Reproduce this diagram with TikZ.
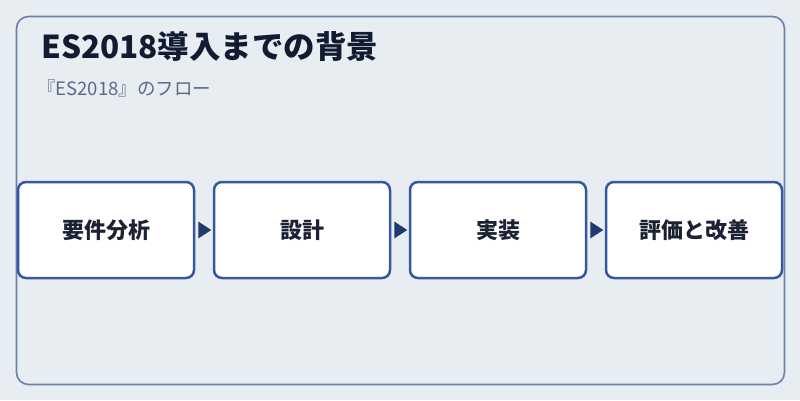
\documentclass[tikz,border=0pt]{standalone}
\usepackage{fontspec}
\setmainfont{Noto Sans CJK JP}
\usetikzlibrary{arrows.meta}
\definecolor{bg}{HTML}{E8EDF2}
\definecolor{frame}{HTML}{6A80B0}
\definecolor{boxline}{HTML}{3558A0}
\definecolor{arrowc}{HTML}{1E3A70}
\definecolor{titlec}{HTML}{111C33}
\definecolor{subc}{HTML}{5A6A88}
\definecolor{textc}{HTML}{1A2233}
\tikzset{
  stepbox/.style={draw=boxline, line width=2.5pt, fill=white, rounded corners=8pt,
    minimum width=176pt, minimum height=96pt, inner sep=0pt,
    font=\fontsize{22}{26}\selectfont\bfseries, text=textc}
}
\begin{document}
\begin{tikzpicture}[x=1pt,y=-1pt]
\useasboundingbox (0,0) rectangle (800,400);
\fill[bg] (0,0) rectangle (800,400);
\draw[frame, line width=1.6pt, rounded corners=12pt] (16.5,16.5) rectangle (784.5,384.5);
\node[anchor=base west, font=\fontsize{31.5}{36}\selectfont\bfseries, text=titlec, inner sep=0pt] (title) at (41,58) {ES2018導入までの背景};
\node[anchor=base west, font=\fontsize{18.5}{22}\selectfont, text=subc, inner sep=0pt] (sub) at (37,95) {『ES2018』のフロー};
\node[stepbox] (s1) at (106,230) {要件分析};
\node[stepbox] (s2) at (302,230) {設計};
\node[stepbox] (s3) at (498,230) {実装};
\node[stepbox] (s4) at (694,230) {評価と改善};
\foreach \a/\b in {s1/s2,s2/s3,s3/s4}{
  \fill[arrowc] ([xshift=3pt]\a.east) ++(0,-8.5) -- ++(13,8.5) -- ++(-13,8.5) -- cycle;
}
\end{tikzpicture}
\end{document}
